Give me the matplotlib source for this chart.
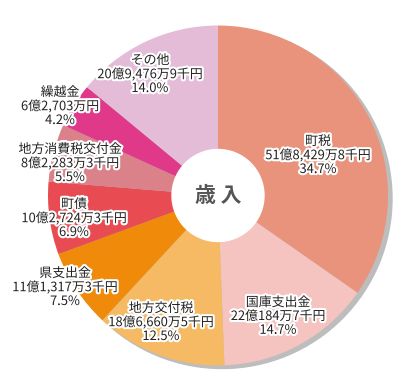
import matplotlib
matplotlib.use("Agg")
import matplotlib.pyplot as plt
import matplotlib.patheffects as pe
from matplotlib.patches import Circle

plt.rcParams['font.family'] = ['Noto Sans CJK JP', 'DejaVu Sans']

categories = ['町税', '国庫支出金', '地方交付税', '県支出金', '町債',
              '地方消費税交付金', '繰越金', 'その他']
amounts = ['51億8,429万8千円', '22億184万7千円', '18億6,660万5千円',
           '11億1,317万3千円', '10億2,724万3千円', '8億2,283万3千円',
           '6億2,703万円', '20億9,476万9千円']
percents = [34.7, 14.7, 12.5, 7.5, 6.9, 5.5, 4.2, 14.0]
center_label = '歳 入'

colors = ['#E9937C', '#F5C4C1', '#F5BA63', '#EF8A0B', '#E84B51',
          '#DA8189', '#E0398A', '#E4BCD8']
# label centre offsets from pie centre (px, y down)
label_offsets = [(100, -40), (60, 121), (-57, 127), (-153, 92),
                 (-144, 23), (-148, -32), (-158, -89), (-68, -121)]

W, H = 405, 380
fig = plt.figure(figsize=(W / 100, H / 100), dpi=100)
ax = fig.add_axes([0, 0, 1, 1])

cx, cy, R = 218, H - 195.5, 170
ax.add_patch(Circle((cx + 4, cy - 3), R, color='#BDBDBD', zorder=0))
ax.pie(percents, colors=colors, startangle=90, counterclock=False,
       center=(cx, cy), radius=R, frame=True,
       wedgeprops=dict(linewidth=0, zorder=1))
ax.set_xlim(0, W)
ax.set_ylim(0, H)
ax.set_aspect('equal')
ax.axis('off')
ax.add_patch(Circle((cx, cy), 46, color='white', zorder=3))

stroke = [pe.withStroke(linewidth=3, foreground='white')]
for cat, amt, p, (dx, dy) in zip(categories, amounts, percents, label_offsets):
    ax.text(cx + dx, cy - dy, f'{cat}\n{amt}\n{p:.1f}%', ha='center', va='center',
            fontsize=9.3, linespacing=1.08, color='#222222', zorder=5,
            path_effects=stroke)

ax.text(cx, cy, center_label, ha='center', va='center', fontsize=15,
        fontweight='bold', color='#555555', zorder=6)

fig.savefig('out.png', dpi=100)
